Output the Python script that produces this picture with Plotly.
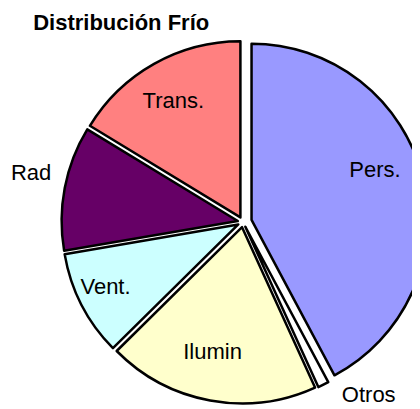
import plotly.graph_objects as go

# Distribución Frío - cooling load shares (%)
labels = ["Pers.", "Otros", "Ilumin", "Vent.", "Rad", "Trans."]
values = [42.2, 1.0, 19.4, 9.7, 11.4, 16.3]
colors = ["#9999FF", "#FFFFFF", "#FFFFCC", "#CCFFFF", "#660066", "#FF8080"]
positions = ["inside", "outside", "inside", "inside", "outside", "inside"]
pulls = [0.05, 0.03, 0.03, 0.03, 0.03, 0.03]

# nudge label text away from the pie centre, like the original chart
sp = "\u00a0"
label_text = [
    sp * 12 + "Pers.<br>" + sp + "<br>" + sp,
    sp * 2 + "Otros",
    sp + "<br>Ilumin" + sp * 3,
    "Vent." + sp * 4,
    "Rad<br>" + sp,
    "Trans." + sp * 3 + "<br>" + sp,
]

fig = go.Figure()

fig.add_trace(go.Pie(
    labels=labels,
    values=values,
    text=label_text,
    sort=False,
    direction="clockwise",
    rotation=0,
    pull=pulls,
    automargin=False,
    textinfo="text",
    textposition=positions,
    insidetextorientation="horizontal",
    textfont=dict(family="Liberation Sans, Arial", size=22, color="black"),
    marker=dict(colors=colors, line=dict(color="black", width=2.5)),
    showlegend=False,
    hoverinfo="label+percent",
))

fig.update_layout(
    width=420,
    height=409,
    margin=dict(l=50, r=0, t=29, b=10),
    paper_bgcolor="white",
    title=dict(
        text="<b>Distribución Frío</b>",
        x=0.06, xanchor="left",
        y=0.985, yanchor="top",
        font=dict(family="Liberation Sans, Arial", size=22, color="black"),
    ),
)

fig.write_html("out.html")
